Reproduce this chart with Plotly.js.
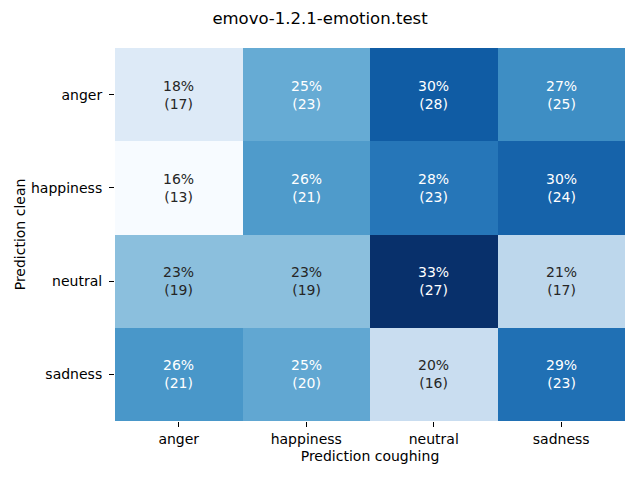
<!DOCTYPE html>
<html>
<head>
<meta charset="utf-8">
<script src="https://cdn.plot.ly/plotly-3.0.1.min.js"></script>
<style>html,body{margin:0;padding:0;background:#fff;}#chart{width:640px;height:480px;}</style>
</head>
<body>
<div id="chart"></div>
<script>
const xLabels = ["anger", "happiness", "neutral", "sadness"];
const yLabels = ["anger", "happiness", "neutral", "sadness"];
const counts = [
  [17, 23, 28, 25],
  [13, 21, 23, 24],
  [19, 19, 27, 17],
  [21, 20, 16, 23]
];
const titleText = "emovo-1.2.1-emotion.test";
const xTitle = "Prediction coughing";
const yTitle = "Prediction clean";

const blues = ["#f7fbff","#deebf7","#c6dbef","#9ecae1","#6baed6","#4292c6","#2171b5","#08519c","#08306b"];
const colorscale = blues.map((c, i) => [i / (blues.length - 1), c]);

const pct = counts.map(r => { const s = r.reduce((a, b) => a + b, 0); return r.map(v => v / s * 100); });
let zmin = Infinity, zmax = -Infinity;
pct.forEach(r => r.forEach(v => { zmin = Math.min(zmin, v); zmax = Math.max(zmax, v); }));

function hex2rgb(h) { return [1,3,5].map(i => parseInt(h.substr(i, 2), 16) / 255); }
function colorAt(t) {
  t = Math.max(0, Math.min(1, t));
  const n = blues.length - 1;
  const i = Math.min(n - 1, Math.floor(t * n));
  const f = t * n - i;
  const a = hex2rgb(blues[i]), b = hex2rgb(blues[i + 1]);
  return a.map((v, k) => v + (b[k] - v) * f);
}
function lum(rgb) {
  const l = rgb.map(c => c <= 0.03928 ? c / 12.92 : Math.pow((c + 0.055) / 1.055, 2.4));
  return 0.2126 * l[0] + 0.7152 * l[1] + 0.0722 * l[2];
}

const annotations = [];
pct.forEach((row, i) => row.forEach((v, j) => {
  const c = colorAt((v - zmin) / (zmax - zmin));
  annotations.push({
    x: xLabels[j], y: yLabels[i], xref: "x", yref: "y",
    text: Math.round(v) + "%<br>(" + counts[i][j] + ")",
    showarrow: false,
    font: { family: "DejaVu Sans", size: 14, color: lum(c) > 0.408 ? "#262626" : "#ffffff" }
  });
}));

const trace = {
  type: "heatmap",
  x: xLabels, y: yLabels, z: pct,
  zmin: zmin, zmax: zmax,
  colorscale: colorscale,
  showscale: false,
  xgap: 0, ygap: 0,
  hoverinfo: "none"
};

const layout = {
  width: 640, height: 480,
  margin: { l: 115, r: 15, t: 48, b: 59 },
  paper_bgcolor: "#fff", plot_bgcolor: "#fff",
  font: { family: "DejaVu Sans", size: 14, color: "#000" },
  title: { text: titleText, x: 0.5, xanchor: "center", y: 1 - 18/480, yanchor: "middle", font: { size: 16.5, family: "DejaVu Sans", color: "#000" } },
  xaxis: {
    type: "category", ticks: "outside", ticklen: 5, tickcolor: "#000", tickwidth: 1,
    ticklabelstandoff: 0,
    showgrid: false, zeroline: false, showline: false,
    tickfont: { size: 14 },
    title: { text: xTitle, font: { size: 14 }, standoff: 5 }
  },
  yaxis: {
    type: "category", autorange: "reversed", ticks: "outside", ticklen: 5, tickcolor: "#000", tickwidth: 1,
    ticklabelstandoff: 4,
    showgrid: false, zeroline: false, showline: false,
    tickfont: { size: 14 },
    title: { text: yTitle, font: { size: 14 }, standoff: 2 }
  },
  annotations: annotations
};

Plotly.newPlot("chart", [trace], layout, { staticPlot: true, displayModeBar: false });
</script>
</body>
</html>
